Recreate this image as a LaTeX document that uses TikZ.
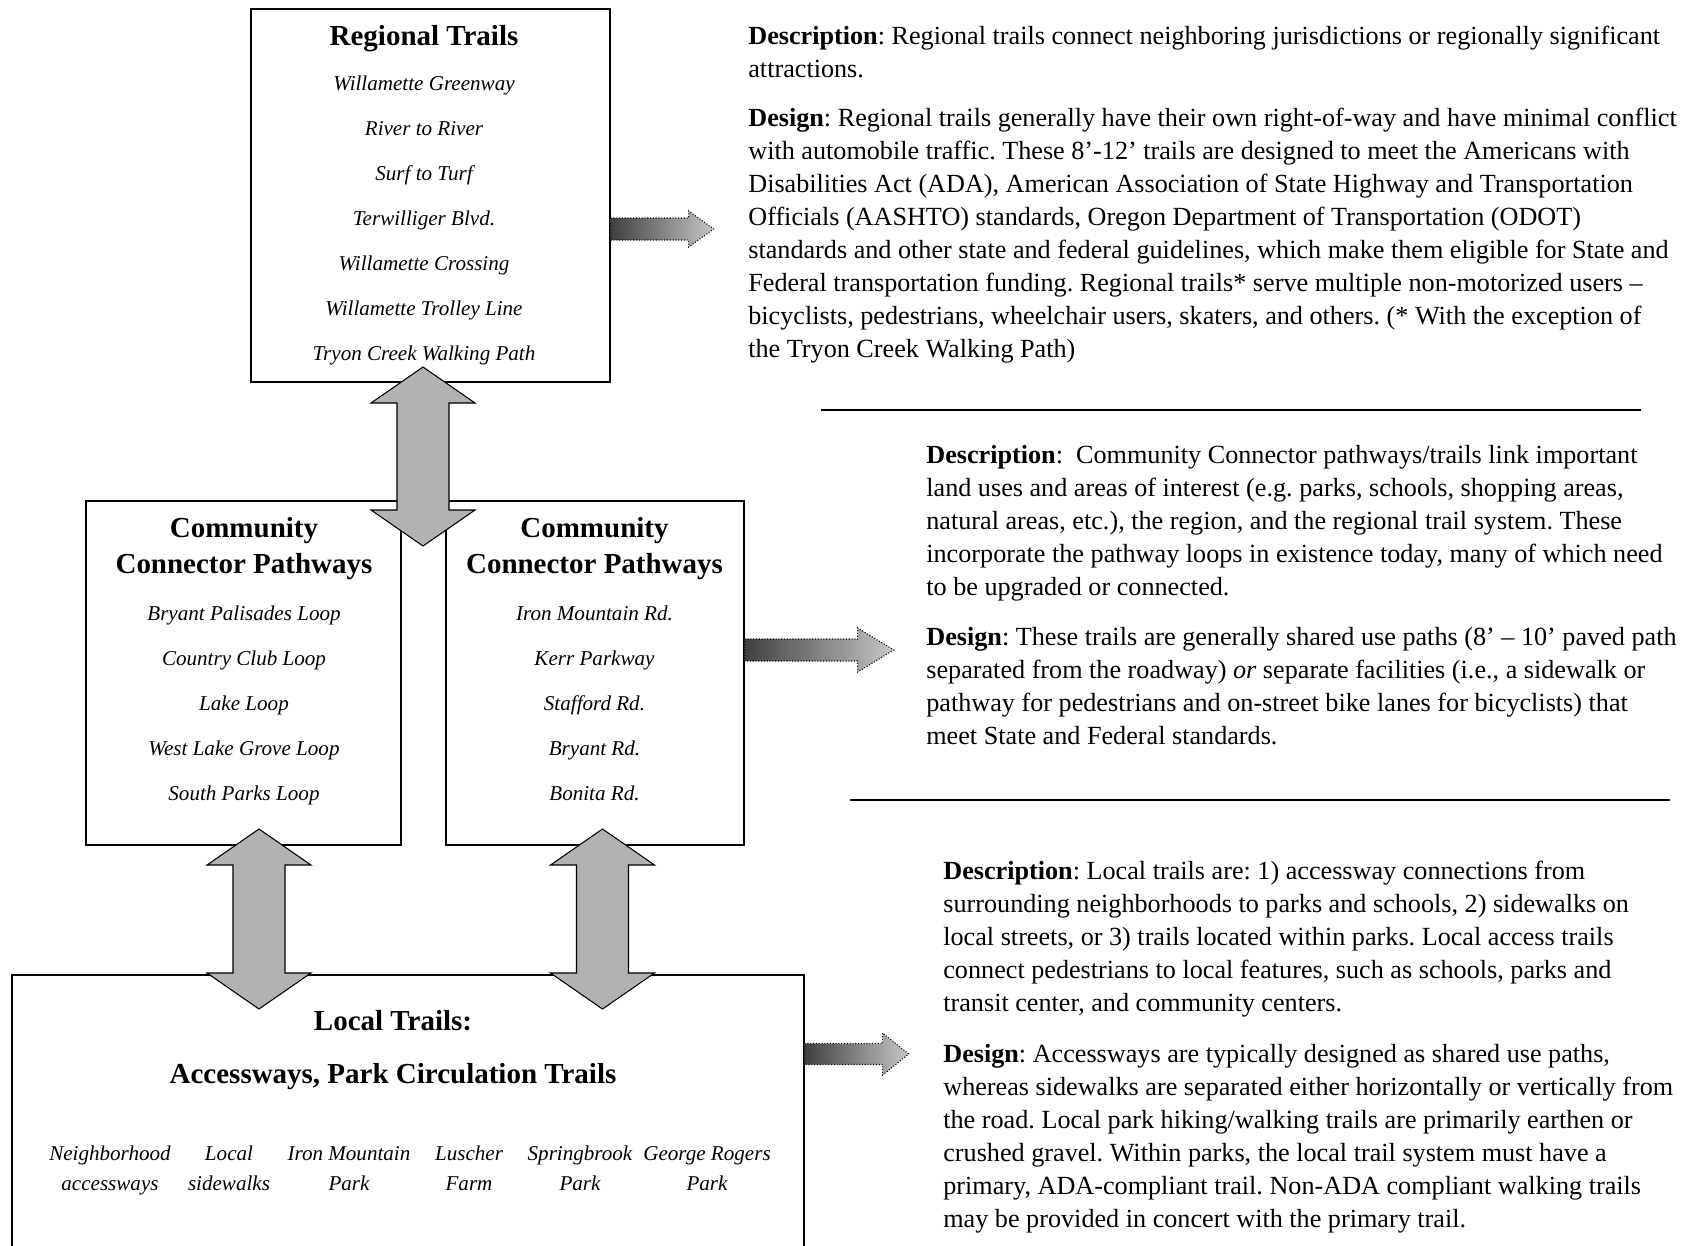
\documentclass[tikz,border=0pt]{standalone}
\usepackage{fontspec}
\setmainfont{Liberation Serif}
\usetikzlibrary{calc}
\frenchspacing

\tikzset{
  box/.style={draw, line width=0.8pt, inner sep=0pt},
  boxtitle/.style={font=\fontsize{16.5}{20.5}\selectfont\bfseries, align=center, inner sep=0pt},
  item/.style={font=\fontsize{12}{17}\selectfont\itshape, align=center, inner sep=0pt},
  body/.style={font=\fontsize{14.9}{18.8}\selectfont, align=left, inner sep=0pt, anchor=north west},
  bigarrow/.style={draw, line width=0.6pt, fill=black!30},
  sidearrow/.style={draw, densely dotted, line width=0.6pt, left color=black!75, right color=black!22},
  rule/.style={line width=0.8pt}
}

% double block arrow: top tip, bottom tip
\newcommand\dblarrow[2]{%
  \draw[bigarrow] (#1) -- ($(#1)+(52,36)$) -- ($(#1)+(26,36)$) -- ($(#2)+(26,-36)$)
    -- ($(#2)+(52,-36)$) -- (#2) -- ($(#2)+(-52,-36)$) -- ($(#2)+(-26,-36)$)
    -- ($(#1)+(-26,36)$) -- ($(#1)+(-52,36)$) -- cycle;}

% shaded arrow: start, shaft length, half shaft, head length, half head
\newcommand\sidearrow[5]{%
  \draw[sidearrow] ($(#1)+(0,-#3)$) -- ++(#2,0) -- ++(0,#3-#5) -- ++(#4,#5)
    -- ++(-#4,#5) -- ++(0,#3-#5) -- ++(-#2,0) -- cycle;}

\begin{document}
\begin{tikzpicture}[x=0.02cm, y=-0.02cm]
\useasboundingbox (0,0) rectangle (1693,1245);

% boxes
\node [box, minimum width=7.18cm, minimum height=7.46cm] (reg) at (430.5,195.5) {};
\node [box, minimum width=6.3cm, minimum height=6.88cm] (ccl) at (243.5,673) {};
\node [box, minimum width=5.96cm, minimum height=6.88cm] (ccr) at (595,673) {};
\node [box, minimum width=15.84cm, minimum height=6.5cm] (loc) at (408,1137.5) {};

% regional trails
\node [boxtitle, anchor=base] (regtitle) at (424,45) {Regional Trails};
\foreach \t [count=\i] in {Willamette Greenway, River to River, Surf to Turf,
  Terwilliger Blvd., Willamette Crossing, Willamette Trolley Line, Tryon Creek Walking Path}
  \node [item, anchor=base] (reg\i) at (424,45+45*\i) {\t};

% community connectors
\node [boxtitle, anchor=north] (ccltitle) at (244,512) {\strut Community\\Connector Pathways};
\node [boxtitle, anchor=north] (ccrtitle) at (594.5,512) {\strut Community\\Connector Pathways};
\foreach \t [count=\i] in {Bryant Palisades Loop, Country Club Loop, Lake Loop,
  West Lake Grove Loop, South Parks Loop}
  \node [item, anchor=base] (ccl\i) at (244,575+45*\i) {\t};
\foreach \t [count=\i] in {Iron Mountain Rd., Kerr Parkway, Stafford Rd.,
  Bryant Rd., Bonita Rd.}
  \node [item, anchor=base] (ccr\i) at (594.5,575+45*\i) {\t};

% local trails
\node [boxtitle, anchor=base] (loctitle) at (393,1030) {Local Trails:};
\node [boxtitle, anchor=base] (locsub) at (393,1083) {Accessways, Park Circulation Trails};
\foreach \x/\t [count=\i] in {110/Neighborhood\\accessways, 229/Local\\sidewalks,
  349/Iron Mountain\\Park, 469/Luscher\\Farm, 580/Springbrook\\Park, 707/George Rogers\\Park}
  \node [item, anchor=north] (loc\i) at (\x,1139) {\strut\t};

% descriptions
\node [body] (regdesc) at (748,21) {\strut\textbf{Description}: Regional trails connect neighboring jurisdictions or regionally significant\\
attractions.};
\node [body] (regdesign) at (748,103) {\strut\textbf{Design}: Regional trails generally have their own right-of-way and have minimal conflict\\
with automobile traffic. These 8’-12’ trails are designed to meet the Americans with\\
Disabilities Act (ADA), American Association of State Highway and Transportation\\
Officials (AASHTO) standards, Oregon Department of Transportation (ODOT)\\
standards and other state and federal guidelines, which make them eligible for State and\\
Federal transportation funding. Regional trails* serve multiple non-motorized users –\\
bicyclists, pedestrians, wheelchair users, skaters, and others. (* With the exception of\\
the Tryon Creek Walking Path)};

\node [body] (ccdesc) at (926,440) {\strut\textbf{Description}:\ \ Community Connector pathways/trails link important\\
land uses and areas of interest (e.g. parks, schools, shopping areas,\\
natural areas, etc.), the region, and the regional trail system. These\\
incorporate the pathway loops in existence today, many of which need\\
to be upgraded or connected.};
\node [body] (ccdesign) at (926,622) {\strut\textbf{Design}: These trails are generally shared use paths (8’ – 10’ paved path\\
separated from the roadway) \textit{or} separate facilities (i.e., a sidewalk or\\
pathway for pedestrians and on-street bike lanes for bicyclists) that\\
meet State and Federal standards.};

\node [body] (locdesc) at (943,856) {\strut\textbf{Description}: Local trails are: 1) accessway connections from\\
surrounding neighborhoods to parks and schools, 2) sidewalks on\\
local streets, or 3) trails located within parks. Local access trails\\
connect pedestrians to local features, such as schools, parks and\\
transit center, and community centers.};
\node [body] (locdesign) at (943,1039) {\strut\textbf{Design}: Accessways are typically designed as shared use paths,\\
whereas sidewalks are separated either horizontally or vertically from\\
the road. Local park hiking/walking trails are primarily earthen or\\
crushed gravel. Within parks, the local trail system must have a\\
primary, ADA-compliant trail. Non-ADA compliant walking trails\\
may be provided in concert with the primary trail.};

% separator rules
\coordinate (r1a) at (821,410);
\coordinate (r1b) at (1641,410);
\coordinate (r2a) at (850,800);
\coordinate (r2b) at (1670,800);
\draw [rule] (r1a) -- (r1b);
\draw [rule] (r2a) -- (r2b);

% arrows to the descriptions
\coordinate (sa1) at (reg.east |- 0,229);
\coordinate (sa2) at (ccr.east |- 0,650);
\coordinate (sa3) at (loc.east |- 0,1054);
\sidearrow{sa1}{78}{11}{25}{18}
\sidearrow{sa2}{113}{11}{36}{22}
\sidearrow{sa3}{78}{10.5}{26}{21}

% links between levels
\coordinate (a1t) at (423,367);
\coordinate (a1b) at (423,546);
\coordinate (a2t) at (259,829);
\coordinate (a2b) at (259,1009);
\coordinate (a3t) at (602.5,829);
\coordinate (a3b) at (602.5,1009);
\dblarrow{a1t}{a1b}
\dblarrow{a2t}{a2b}
\dblarrow{a3t}{a3b}
\end{tikzpicture}
\end{document}
